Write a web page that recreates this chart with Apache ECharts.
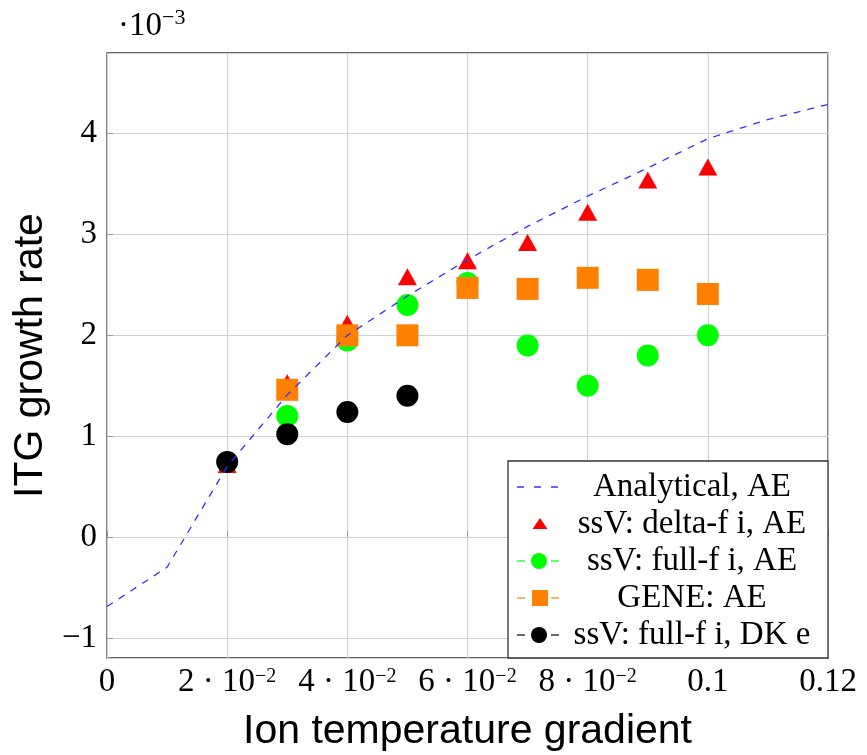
<!DOCTYPE html>
<html>
<head>
<meta charset="utf-8">
<script src="https://cdn.jsdelivr.net/npm/echarts@6/dist/echarts.min.js"></script>
<style>
html, body { margin: 0; padding: 0; background: #fff; }
#chart { width: 867px; height: 755px; }
</style>
</head>
<body>
<div id="chart"></div>
<script>
var serif = '"Liberation Serif", "DejaVu Serif", serif';
var sans = '"Liberation Sans", Arial, sans-serif';

// analytical curve (values in units of 1e-3)
var anaX = [0, 0.01, 0.02, 0.03, 0.04, 0.05, 0.06, 0.07, 0.08, 0.09, 0.1, 0.11, 0.12];
var anaY = [-0.69, -0.30, 0.70, 1.41, 2.00, 2.39, 2.75, 3.08, 3.38, 3.66, 3.95, 4.14, 4.29];
// ssV delta-f i, AE
var deltaX = [0.02, 0.03, 0.04, 0.05, 0.06, 0.07, 0.08, 0.09, 0.1];
var deltaY = [0.72, 1.53, 2.12, 2.58, 2.74, 2.92, 3.22, 3.54, 3.67];
// ssV full-f i, AE
var fullX = [0.03, 0.04, 0.05, 0.06, 0.07, 0.08, 0.09, 0.1];
var fullY = [1.20, 1.95, 2.30, 2.52, 1.90, 1.50, 1.80, 2.00];
// GENE AE
var geneX = [0.03, 0.04, 0.05, 0.06, 0.07, 0.08, 0.09, 0.1];
var geneY = [1.46, 2.00, 2.00, 2.47, 2.46, 2.57, 2.55, 2.41];
// ssV full-f i, DK e
var dkX = [0.02, 0.03, 0.04, 0.05];
var dkY = [0.745, 1.02, 1.24, 1.40];

var xTickLabels = ['0', '2 · 10^−2', '4 · 10^−2', '6 · 10^−2', '8 · 10^−2', '0.1', '0.12'];
var legendNames = ['Analytical, AE', 'ssV: delta-f i, AE', 'ssV: full-f i, AE', 'GENE: AE', 'ssV: full-f i, DK e'];
var colors = ['#3030ff', '#ff0000', '#00ff00', '#ff8000', '#000000'];

function pairs(xs, ys) {
	return xs.map(function(x, i) { return [x, ys[i]]; });
}

var richTick = {
	b: { fontFamily: serif, fontSize: 33, lineHeight: 36, color: '#000' },
	s: { fontFamily: serif, fontSize: 20, lineHeight: 20, color: '#000', padding: [0, 0, 11, 0] }
};

// legend box drawn by hand so the texts can be centred like the original
var legendEls = [{
	type: 'rect', z: 100,
	shape: { x: 508, y: 461, width: 320, height: 197 },
	style: { fill: '#fff', stroke: '#333', lineWidth: 1.3 }
}];
var rowY = [487, 524, 561, 598, 635];
for (var i = 0; i < legendNames.length; i++) {
	var cy = rowY[i];
	legendEls.push({
		type: 'text', z: 101, x: 692, y: cy,
		style: { text: legendNames[i], fontFamily: serif, fontSize: 33, fill: '#000', align: 'center', verticalAlign: 'middle' }
	});
	if (i == 0) {
		legendEls.push({
			type: 'line', z: 101, shape: { x1: 517, y1: cy, x2: 559, y2: cy },
			style: { stroke: colors[0], lineWidth: 1.3, lineDash: [7, 10] }
		});
	} else if (i == 1) {
		legendEls.push({
			type: 'polygon', z: 101, shape: { points: [[540, cy - 6], [547.5, cy + 5], [532.5, cy + 5]] },
			style: { fill: colors[1] }
		});
	} else {
		legendEls.push({
			type: 'line', z: 101, shape: { x1: 517, y1: cy, x2: 525, y2: cy },
			style: { stroke: colors[i], lineWidth: 1.2 }
		});
		legendEls.push({
			type: 'line', z: 101, shape: { x1: 551, y1: cy, x2: 559, y2: cy },
			style: { stroke: colors[i], lineWidth: 1.2 }
		});
		if (i == 3) {
			legendEls.push({
				type: 'rect', z: 101, shape: { x: 532, y: cy - 8, width: 16, height: 16 },
				style: { fill: colors[3] }
			});
		} else {
			legendEls.push({
				type: 'circle', z: 101, shape: { cx: 539, cy: cy, r: 8 },
				style: { fill: colors[i] }
			});
		}
	}
}
legendEls.push({
	type: 'text', z: 101, x: 118, y: 26,
	style: {
		text: '{b|·10}{s|−3}', align: 'left', verticalAlign: 'middle',
		rich: {
			b: { fontFamily: serif, fontSize: 33, lineHeight: 36, fill: '#000' },
			s: { fontFamily: serif, fontSize: 22, lineHeight: 22, fill: '#000', padding: [0, 0, 16, 0] }
		}
	}
});

var myChart = echarts.init(document.getElementById('chart'));
var option = {
	animation: false,
	backgroundColor: '#fff',
	grid: {
		left: 107, right: 39, top: 53, bottom: 97,
		outerBoundsMode: 'none',
		show: true, borderColor: '#333', borderWidth: 1.3
	},
	xAxis: {
		type: 'value', min: 0, max: 0.12, interval: 0.02,
		name: 'Ion temperature gradient', nameLocation: 'middle', nameGap: 53,
		nameTextStyle: { fontFamily: sans, fontSize: 41, color: '#000' },
		axisLine: { show: false },
		axisTick: { show: true, inside: true, length: 6, lineStyle: { color: '#999' } },
		splitLine: { lineStyle: { color: '#d0d0d0', width: 1.2 } },
		axisLabel: {
			margin: 6, showMinLabel: true, showMaxLabel: true,
			formatter: function(v) {
				var t = xTickLabels[Math.round(v / 0.02)];
				var p = t.split('^');
				return p.length > 1 ? '{b|' + p[0] + '}{s|' + p[1] + '}' : '{b|' + t + '}';
			},
			rich: richTick
		}
	},
	yAxis: {
		type: 'value', min: -1.2, max: 4.8, minInterval: 1, maxInterval: 1,
		name: 'ITG growth rate', nameLocation: 'middle', nameGap: 47,
		nameTextStyle: { fontFamily: sans, fontSize: 41, color: '#000' },
		axisLine: { show: false },
		axisTick: { show: true, inside: true, length: 6, lineStyle: { color: '#999' } },
		splitLine: { lineStyle: { color: '#d0d0d0', width: 1.2 } },
		axisLabel: {
			margin: 10, showMinLabel: false, showMaxLabel: false,
			fontFamily: serif, fontSize: 33, color: '#000',
			formatter: function(v) { return String(v).replace('-', '−'); }
		}
	},
	graphic: legendEls,
	series: [{
		type: 'line', name: legendNames[0], data: pairs(anaX, anaY),
		showSymbol: false, symbol: 'none', silent: true,
		lineStyle: { color: colors[0], width: 1.3, type: [7, 7] }
	}, {
		type: 'scatter', name: legendNames[1], data: pairs(deltaX, deltaY),
		symbol: 'triangle', symbolSize: [19, 17], itemStyle: { color: colors[1], opacity: 1 }
	}, {
		type: 'scatter', name: legendNames[2], data: pairs(fullX, fullY),
		symbol: 'circle', symbolSize: 22, itemStyle: { color: colors[2], opacity: 1 }
	}, {
		type: 'scatter', name: legendNames[3], data: pairs(geneX, geneY),
		symbol: 'rect', symbolSize: 22, itemStyle: { color: colors[3], opacity: 1 }
	}, {
		type: 'scatter', name: legendNames[4], data: pairs(dkX, dkY),
		symbol: 'circle', symbolSize: 22, itemStyle: { color: colors[4], opacity: 1 }
	}]
};
myChart.setOption(option);
</script>
</body>
</html>
